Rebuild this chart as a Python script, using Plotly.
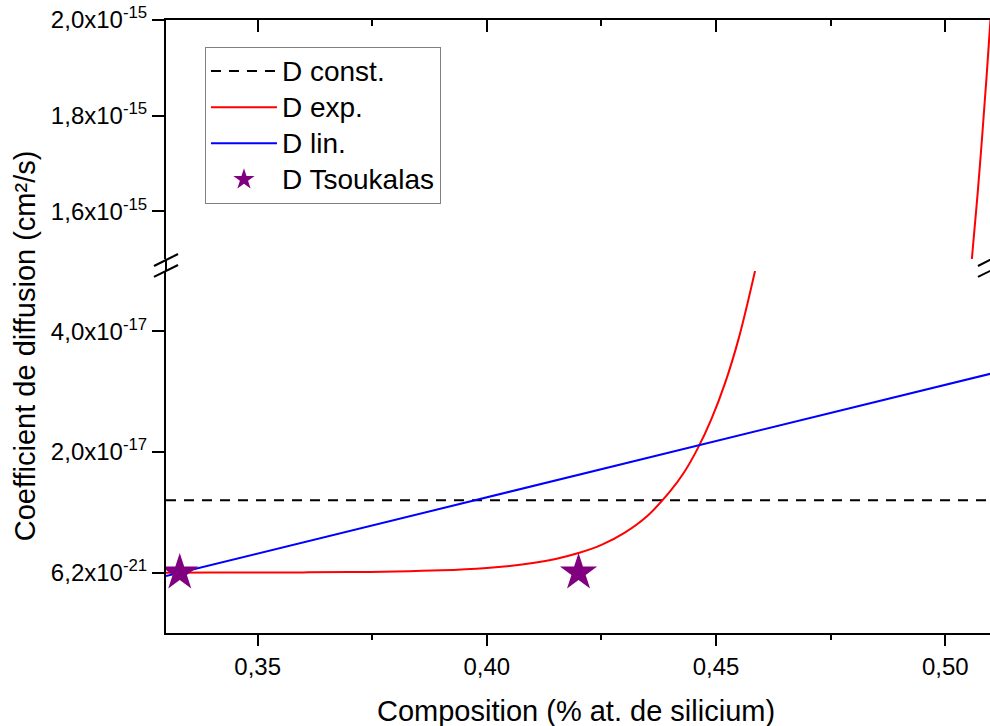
import plotly.graph_objects as go

# ===============================
# DATA
# ===============================
x_const = [0.33, 0.51]
d_const = [1.2e-17, 1.2e-17]

x_lin = [0.33, 0.51]
d_lin = [-5.6e-19, 3.3e-17]

# D exp., lower part (below the break)
x_exp_low = [0.330, 0.340, 0.350, 0.360, 0.370, 0.380, 0.390, 0.400, 0.405, 0.410,
             0.415, 0.420, 0.425, 0.430, 0.435, 0.440, 0.443, 0.446, 0.449, 0.452,
             0.455, 0.4585]
d_exp_low = [5.5e-21, 1.1e-20, 2.3e-20, 4.6e-20, 9.3e-20, 1.9e-19, 3.9e-19, 7.9e-19,
             1.12e-18, 1.6e-18, 2.28e-18, 3.25e-18, 4.6e-18, 6.6e-18, 9.4e-18,
             1.35e-17, 1.66e-17, 2.06e-17, 2.55e-17, 3.15e-17, 3.9e-17, 5.0e-17]

# D exp. upper part (above the break)
x_exp_high = [0.5058, 0.507, 0.508, 0.509, 0.510]
d_exp_high = [1.50e-15, 1.63e-15, 1.75e-15, 1.88e-15, 2.02e-15]

x_tsoukalas = [0.333, 0.42]
d_tsoukalas = [6.2e-21, 6.2e-21]

x_ticks = [0.35, 0.40, 0.45, 0.50]
x_ticktext = ["0,35", "0,40", "0,45", "0,50"]

y_low_ticks = [6.2e-21, 2.0e-17, 4.0e-17]
y_low_text = ["6,2x10<sup>-21</sup>", "2,0x10<sup>-17</sup>", "4,0x10<sup>-17</sup>"]

y_high_ticks = [1.6e-15, 1.8e-15, 2.0e-15]
y_high_text = ["1,6x10<sup>-15</sup>", "1,8x10<sup>-15</sup>", "2,0x10<sup>-15</sup>"]

FONT = "Liberation Sans, Arial, sans-serif"
X_RANGE = [0.33, 0.50976]
Y_LOW_RANGE = [-1.0e-17, 5.0e-17]
Y_HIGH_RANGE = [1.5e-15, 2.0e-15]
LOW_DOMAIN = [0, 0.5905]
HIGH_DOMAIN = [0.6101, 1]


def legend_name(text):
    # bigger text than the legend font, rows keep the tighter spacing
    return f'<span style="font-size:28px">{text}</span>'


# ===============================
# TRACES
# ===============================
fig = go.Figure()

fig.add_trace(go.Scatter(
    x=x_const, y=d_const, mode="lines", name=legend_name("D const."),
    line=dict(color="black", width=2, dash="10px,8px"),
    xaxis="x", yaxis="y"
))

fig.add_trace(go.Scatter(
    x=x_exp_low, y=d_exp_low, mode="lines", name=legend_name("D exp."),
    line=dict(color="#FF0000", width=2, shape="spline"),
    xaxis="x", yaxis="y"
))

fig.add_trace(go.Scatter(
    x=x_lin, y=d_lin, mode="lines", name=legend_name("D lin."),
    line=dict(color="#0000FF", width=2),
    xaxis="x", yaxis="y"
))

fig.add_trace(go.Scatter(
    x=x_tsoukalas, y=d_tsoukalas, mode="markers", name=legend_name("D Tsoukalas"),
    marker=dict(symbol="star", size=28, color="#800080", line=dict(width=0)),
    xaxis="x", yaxis="y"
))

fig.add_trace(go.Scatter(
    x=x_exp_high, y=d_exp_high, mode="lines", showlegend=False,
    line=dict(color="#FF0000", width=2, shape="spline"),
    xaxis="x2", yaxis="y2"
))

# ===============================
# AXES
# ===============================
axis_common = dict(
    showline=True, linecolor="black", linewidth=2,
    showgrid=False, zeroline=False, automargin=False,
    tickcolor="black", tickwidth=2, ticklabeloverflow="allow",
    tickfont=dict(family=FONT, size=24, color="black"),
)

fig.update_layout(
    xaxis=dict(
        **axis_common, range=X_RANGE, anchor="y", domain=[0, 1],
        tickmode="array", tickvals=x_ticks, ticktext=x_ticktext,
        ticks="outside", ticklen=11,
        minor=dict(dtick=0.025, tick0=0.325, ticks="outside", ticklen=5,
                   tickwidth=2, tickcolor="black", showgrid=False),
    ),
    xaxis2=dict(
        **axis_common, range=X_RANGE, anchor="y2", side="top", domain=[0, 1],
        tickmode="array", tickvals=x_ticks, showticklabels=False,
        ticks="inside", ticklen=12,
        minor=dict(dtick=0.025, tick0=0.325, ticks="inside", ticklen=6,
                   tickwidth=2, tickcolor="black", showgrid=False),
    ),
    yaxis=dict(
        **axis_common, range=Y_LOW_RANGE, domain=LOW_DOMAIN, anchor="x",
        tickmode="array", tickvals=y_low_ticks, ticktext=y_low_text,
        ticks="outside", ticklen=12,
    ),
    yaxis2=dict(
        **axis_common, range=Y_HIGH_RANGE, domain=HIGH_DOMAIN, anchor="x2",
        tickmode="array", tickvals=y_high_ticks, ticktext=y_high_text,
        ticks="outside", ticklen=12,
    ),
    yaxis3=dict(
        **axis_common, range=Y_LOW_RANGE, overlaying="y", side="right", anchor="x",
        tickmode="array", tickvals=y_low_ticks, showticklabels=False,
        ticks="inside", ticklen=10,
    ),
    yaxis4=dict(
        **axis_common, range=Y_HIGH_RANGE, overlaying="y2", side="right", anchor="x2",
        tickmode="array", tickvals=y_high_ticks, showticklabels=False,
        ticks="inside", ticklen=10,
    ),
)

# ===============================
# AXIS BREAK + TITLES
# ===============================
shapes = [
    # close the left axis through the gap
    dict(type="line", xref="paper", yref="paper", x0=0, x1=0,
         y0=LOW_DOMAIN[1], y1=HIGH_DOMAIN[0], line=dict(color="black", width=2)),
]
for xc in (0, 1):
    for y0, y1 in ((0.5987, 0.6183), (0.5808, 0.6003)):
        shapes.append(dict(type="line", xref="paper", yref="paper",
                           x0=xc - 0.0146, x1=xc + 0.0146, y0=y0, y1=y1,
                           line=dict(color="black", width=2)))

fig.update_layout(
    shapes=shapes,
    annotations=[
        dict(text="Composition (% at. de silicium)", xref="paper", yref="paper",
             x=0.4976, y=-0.128, xanchor="center", yanchor="middle", showarrow=False,
             font=dict(family=FONT, size=29, color="black")),
        dict(text="Coefficient de diffusion (cm²/s)", xref="paper", yref="paper",
             x=-0.171, y=0.468, xanchor="center", yanchor="middle", showarrow=False,
             textangle=-90, font=dict(family=FONT, size=29, color="black")),
    ],
    legend=dict(
        x=0.0473, y=0.956, xanchor="left", yanchor="top",
        bgcolor="white", bordercolor="#808080", borderwidth=1,
        font=dict(family=FONT, size=25.5, color="black"),
        tracegroupgap=0, itemwidth=66,
    ),
    width=990, height=726,
    margin=dict(l=166, r=0, t=20, b=93),
    plot_bgcolor="white", paper_bgcolor="white",
    font=dict(family=FONT, color="black"),
    showlegend=True,
)

# drop the default page margin so the figure sits at the window corner
fig.write_html(
    "out.html",
    config={"displayModeBar": False},
    post_script="document.body.style.margin='0';document.body.style.overflow='hidden';",
)
